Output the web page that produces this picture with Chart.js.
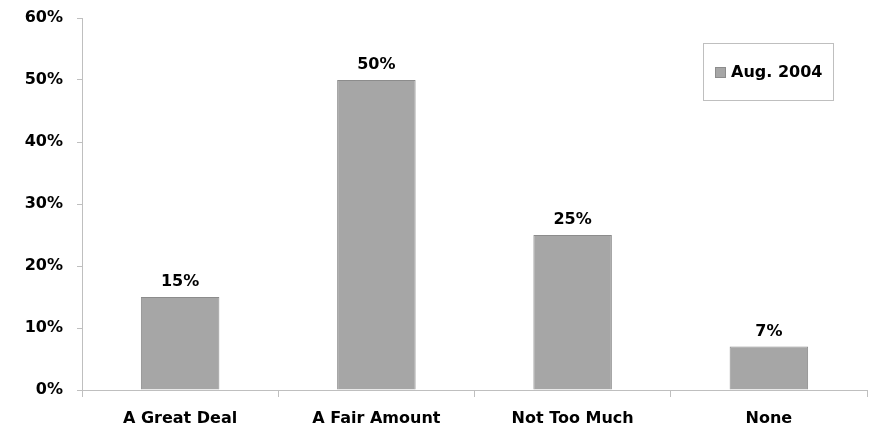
<!DOCTYPE html>
<html>
<head>
<meta charset="utf-8">
<script src="https://cdn.jsdelivr.net/npm/chart.js@4.4.1/dist/chart.umd.min.js"></script>
<style>
  html, body { margin: 0; padding: 0; background: #fff; }
  #wrap { position: relative; width: 869px; height: 428px; }
</style>
</head>
<body>
<div id="wrap"><canvas id="barChart"></canvas></div>
<script>
// ===== Data =====
const categories = ['A Great Deal', 'A Fair Amount', 'Not Too Much', 'None'];
const seriesLabel = 'Aug. 2004';
const seriesValues = [15, 50, 25, 7];
const yTicks = [0, 10, 20, 30, 40, 50, 60];

// ===== Colors =====
const colors = {
    bar: '#a6a6a6',
    barBorder: '#8c8c8c',
    axis: '#bfbfbf',
    text: '#000000'
};

const fontFamily = '"DejaVu Sans", Verdana, sans-serif';
const font = 'bold 16px ' + fontFamily;

// value labels above bars
const valueLabels = {
    id: 'valueLabels',
    afterDatasetsDraw(chart) {
        const ctx = chart.ctx;
        const meta = chart.getDatasetMeta(0);
        ctx.save();
        ctx.font = font;
        ctx.fillStyle = colors.text;
        ctx.textAlign = 'center';
        ctx.textBaseline = 'alphabetic';
        meta.data.forEach((bar, i) => {
            ctx.fillText(seriesValues[i] + '%', bar.x, bar.y - 11);
        });
        ctx.restore();
    }
};

// boxed legend in the top-right corner
const boxLegend = {
    id: 'boxLegend',
    afterDraw(chart) {
        const ctx = chart.ctx;
        const x = 703, y = 43, w = 130, h = 57;
        ctx.save();
        ctx.strokeStyle = colors.axis;
        ctx.lineWidth = 1;
        ctx.strokeRect(x + 0.5, y + 0.5, w, h);
        ctx.fillStyle = colors.bar;
        ctx.fillRect(x + 12, y + 24, 11, 11);
        ctx.strokeStyle = colors.barBorder;
        ctx.strokeRect(x + 12.5, y + 24.5, 10, 10);
        ctx.font = font;
        ctx.fillStyle = colors.text;
        ctx.textAlign = 'left';
        ctx.textBaseline = 'middle';
        ctx.fillText(chart.data.datasets[0].label, x + 28, y + 30);
        ctx.restore();
    }
};

document.addEventListener('DOMContentLoaded', () => {
    const ctx = document.getElementById('barChart');
    new Chart(ctx, {
        type: 'bar',
        data: {
            labels: categories,
            datasets: [{
                label: seriesLabel,
                data: seriesValues,
                backgroundColor: colors.bar,
                borderColor: colors.barBorder,
                borderWidth: 1,
                categoryPercentage: 0.4,
                barPercentage: 1.0
            }]
        },
        options: {
            responsive: true,
            maintainAspectRatio: false,
            animation: false,
            layout: { padding: { top: 18, right: 2, left: 0, bottom: 0 } },
            plugins: {
                legend: { display: false },
                tooltip: { enabled: false }
            },
            scales: {
                x: {
                    grid: {
                        offset: true,
                        drawOnChartArea: false,
                        drawTicks: true,
                        tickLength: 7,
                        color: colors.axis
                    },
                    border: { color: colors.axis, width: 1 },
                    ticks: {
                        color: colors.text,
                        font: { family: fontFamily, size: 16, weight: 'bold' },
                        padding: 12,
                        maxRotation: 0
                    },
                    afterFit: (s) => { s.height = 38; }
                },
                y: {
                    min: 0,
                    max: 60,
                    afterBuildTicks: (s) => { s.ticks = yTicks.map(v => ({ value: v })); },
                    grid: {
                        drawOnChartArea: false,
                        drawTicks: true,
                        tickLength: 5,
                        color: colors.axis
                    },
                    border: { color: colors.axis, width: 1 },
                    ticks: {
                        color: colors.text,
                        font: { family: fontFamily, size: 16, weight: 'bold', lineHeight: 0.25 },
                        padding: 14,
                        callback: (value) => value + '%'
                    },
                    afterFit: (s) => { s.width = 82; }
                }
            }
        },
        plugins: [valueLabels, boxLegend]
    });
});
</script>
</body>
</html>
